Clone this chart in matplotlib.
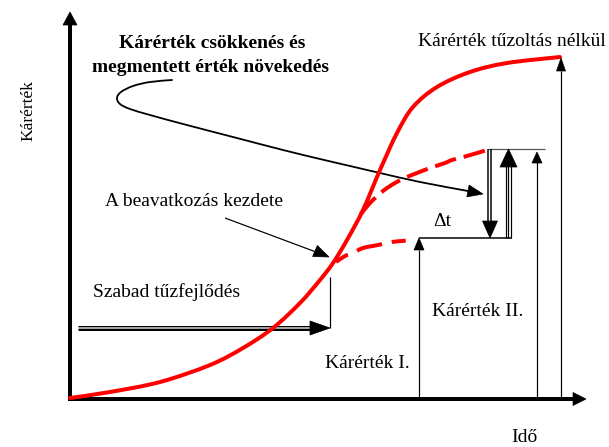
import matplotlib
matplotlib.use("Agg")
import matplotlib.pyplot as plt
from matplotlib.patches import Polygon, PathPatch
from matplotlib.path import Path
import numpy as np

# ---- data (pixel-space diagram coordinates) ----
free_fire_x = [70, 110, 160, 210, 243, 273, 300, 320, 333, 347, 363, 380, 397, 413, 437, 470, 507, 560]
free_fire_y = [398, 392, 382, 365, 348, 328, 303, 280, 263, 240, 210, 170, 133, 107, 87, 72, 63, 57]

late_x = [361, 370, 383, 395, 407, 417, 430, 445, 452, 467, 487]
late_y = [214, 203, 191, 183, 177, 173, 168, 163, 160, 156, 150]

early_x = [336, 345, 353, 363, 378, 392, 402, 412]
early_y = [262, 256, 253, 248, 245, 242, 241, 240]

pointer_x = [172, 150, 133, 121, 117, 120, 130, 150, 183, 233, 283, 320, 350, 380, 420, 468]
pointer_y = [80, 82, 86, 92, 98, 104, 109, 115, 124, 137, 150, 159, 166, 173, 182, 191]

labels = {
    "y": "Kárérték",
    "x": "Idő",
    "nofight": "Kárérték tűzoltás nélkül",
    "start": "A beavatkozás kezdete",
    "free": "Szabad tűzfejlődés",
    "k1": "Kárérték I.",
    "k2": "Kárérték II.",
    "dt": "Δt",
    "bold1": "Kárérték csökkenés és",
    "bold2": "megmentett érték növekedés",
}

W, H = 609, 447
fig = plt.figure(figsize=(W / 100, H / 100), dpi=100)
ax = fig.add_axes([0, 0, 1, 1])
ax.set_xlim(0, W)
ax.set_ylim(H, 0)
ax.axis("off")

PX = 72 / 100  # points per pixel


def smooth_path(xs, ys):
    """Cubic Bezier path passing through the given points (Catmull-Rom tangents)."""
    P = np.column_stack([xs, ys]).astype(float)
    n = len(P)
    verts = [P[0]]
    codes = [Path.MOVETO]
    for i in range(n - 1):
        p0 = P[i - 1] if i > 0 else P[i]
        p1, p2 = P[i], P[i + 1]
        p3 = P[i + 2] if i + 2 < n else P[i + 1]
        c1 = p1 + (p2 - p0) / 6.0
        c2 = p2 - (p3 - p1) / 6.0
        verts += [c1, c2, p2]
        codes += [Path.CURVE4] * 3
    return Path(verts, codes)


def curve(xs, ys, color, w, ls="-", z=5, cap="round"):
    patch = PathPatch(smooth_path(xs, ys), facecolor="none", edgecolor=color,
                      lw=w * PX, linestyle=ls, zorder=z, capstyle=cap, joinstyle="round")
    ax.add_patch(patch)


def tri(tip, base, hw, z=7):
    tx, ty = tip
    bx, by = base
    dx, dy = tx - bx, ty - by
    L = np.hypot(dx, dy)
    nx, ny = -dy / L, dx / L
    pts = [(tx, ty), (bx + nx * hw, by + ny * hw), (bx - nx * hw, by - ny * hw)]
    ax.add_patch(Polygon(pts, closed=True, facecolor="black", edgecolor="black", lw=0.5, zorder=z))


def line(xs, ys, w=1.0, c="black", z=3):
    ax.plot(xs, ys, color=c, lw=w * PX, zorder=z, solid_capstyle="butt")


# axes
line([70, 70], [400, 24], w=4)
tri((70, 12), (70, 25), 7)
line([68, 574], [399, 399], w=4)
tri((586, 399), (573, 399), 6.5)

# red curves
curve(free_fire_x, free_fire_y, "#ff0000", 4, z=6)
curve(late_x, late_y, "#ff0000", 4, ls=(0, (5.5, 2.0)), z=6, cap="butt")
curve(early_x, early_y, "#ff0000", 4, ls=(0, (3.5, 2.5, 6.5, 2.5)), z=6, cap="butt")

# free-fire double arrow
line([78, 312], [328, 328], w=5)
line([78, 312], [328, 328], w=1.5, c="#d8d8d8", z=4)
tri((330, 328), (310, 328), 7)
line([330, 330], [328, 277], w=1.2)

# intervention pointer
line([225, 316], [218, 252], w=1.2)
tri((329, 257), (315, 251), 6)

# curved pointer from bold text
curve(pointer_x, pointer_y, "black", 1.8, z=4)
tri((483, 194), (468, 191), 6)

# step structure
line([419, 419], [399, 250], w=1.2)
tri((419, 238), (419, 250), 5)
line([419, 512], [238, 238], w=1.5)
line([488, 545], [149, 149], w=1.2, c="#555555")
line([487.5, 487.5], [149, 222], w=1.5)
line([490.5, 490.5], [149, 222], w=1.5)
tri((490, 238), (490, 221), 7.5)
for xx in (505.5, 508, 510.5):
    line([xx, xx], [238, 166], w=1.2)
tri((508.5, 149), (508.5, 167), 8.5)
line([537, 537], [399, 162], w=1.2)
tri((537, 152), (537, 163), 5)
line([561, 561], [399, 71], w=1.2)
tri((561, 58), (561, 71), 4.5)

# texts
serif = ["Liberation Serif", "DejaVu Serif"]
fs = 14
ax.text(28, 111, labels["y"], rotation=90, ha="center", va="center", fontsize=12.5, family=serif)
ax.text(524, 437, labels["x"], ha="center", va="center", fontsize=fs, family=serif)
ax.text(512, 42, labels["nofight"], ha="center", va="center", fontsize=fs, family=serif)
ax.text(194, 202, labels["start"], ha="center", va="center", fontsize=fs, family=serif)
ax.text(167, 292, labels["free"], ha="center", va="center", fontsize=fs, family=serif)
ax.text(367, 363, labels["k1"], ha="center", va="center", fontsize=fs, family=serif)
ax.text(478, 312, labels["k2"], ha="center", va="center", fontsize=fs, family=serif)
ax.text(442, 222, labels["dt"], ha="center", va="center", fontsize=fs, family=serif)
ax.text(212, 44, labels["bold1"], ha="center", va="center", fontsize=fs, family=serif, weight="bold")
ax.text(210, 67, labels["bold2"], ha="center", va="center", fontsize=fs, family=serif, weight="bold")

fig.savefig("out.png", dpi=100, facecolor="white")
